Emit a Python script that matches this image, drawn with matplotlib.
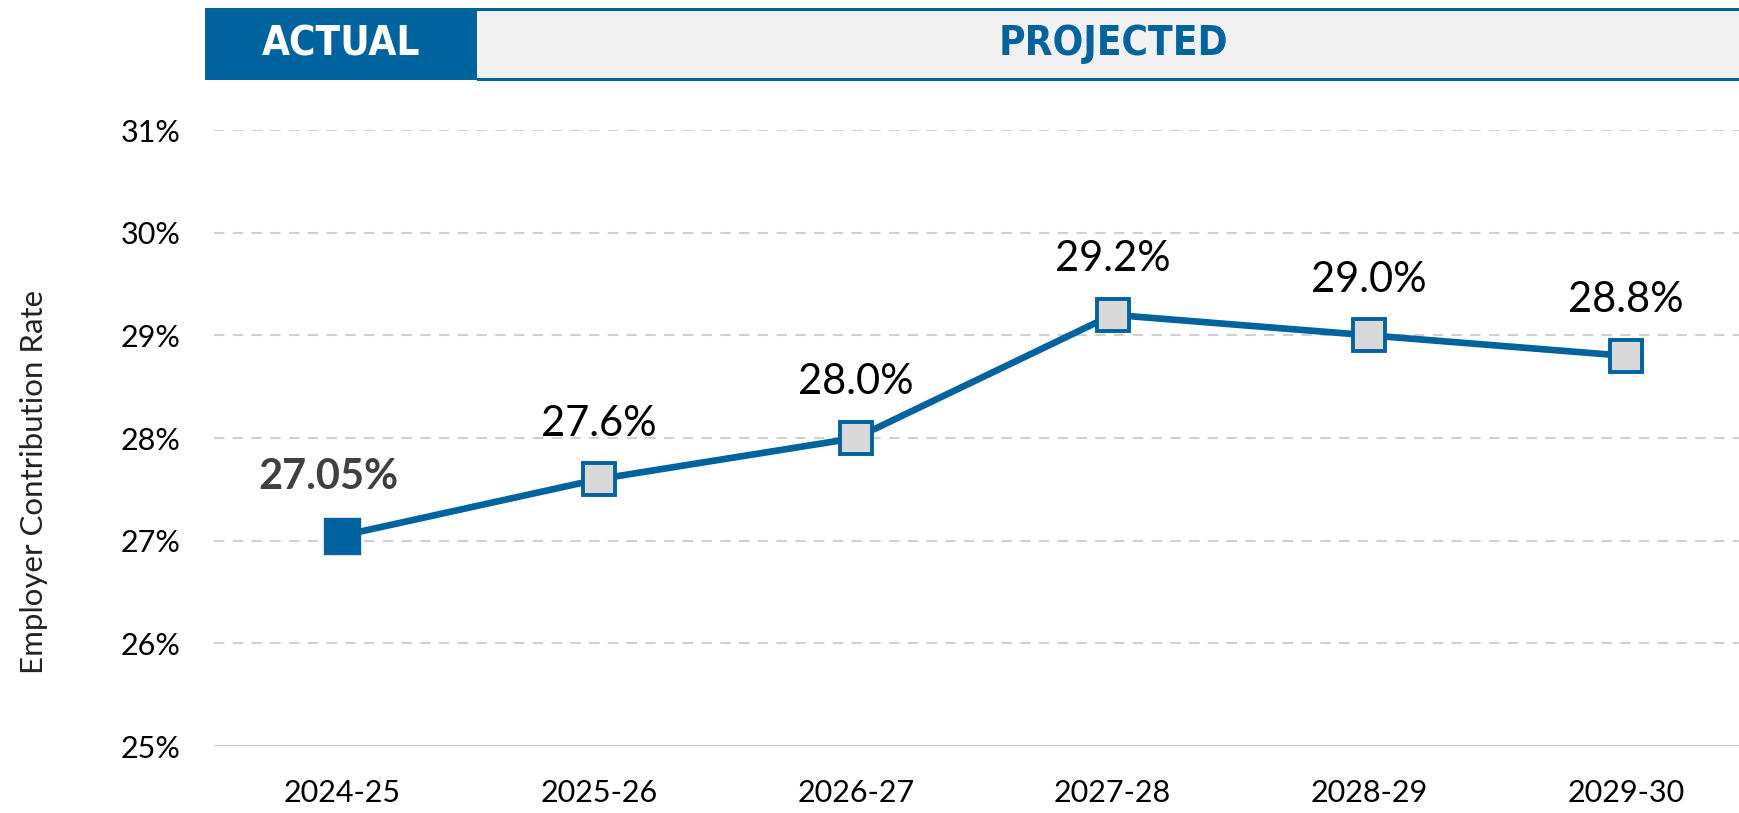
import numpy as np
import matplotlib.pyplot as plt
from matplotlib.patches import Rectangle

# data
years  = ["2024-25", "2025-26", "2026-27", "2027-28", "2028-29", "2029-30"]
rates  = [27.05, 27.6, 28.0, 29.2, 29.0, 28.8]
labels = ["27.05%", "27.6%", "28.0%", "29.2%", "29.0%", "28.8%"]
yticks = [25, 26, 27, 28, 29, 30, 31]

BLUE = "#00639e"
W, H = 1739, 813

plt.rcParams['font.family'] = ['Lato', 'DejaVu Sans']

fig = plt.figure(figsize=(W/100, H/100), dpi=100)

def fx(px): return px/W
def fy(py): return 1 - py/H    # py measured from top

# ---- header banner --------------------------------
fig.patches.append(Rectangle((fx(477), fy(80)), fx(W-477+10), (80-8)/H,
                             transform=fig.transFigure, facecolor="#f1f1f1",
                             edgecolor="none"))
for yy in (8, 78):
    fig.patches.append(Rectangle((fx(477), fy(yy+3)), fx(W-477+10), 3/H,
                                 transform=fig.transFigure, facecolor=BLUE,
                                 edgecolor="none"))
fig.patches.append(Rectangle((fx(205), fy(80)), fx(477-205), (80-8)/H,
                             transform=fig.transFigure, facecolor=BLUE,
                             edgecolor="none"))
fig.text(fx(341), fy(44), "ACTUAL", color="white", fontsize=29,
         fontweight="bold", fontstretch="condensed", ha="center", va="center",
         family=["DejaVu Sans"])
fig.text(fx(1113), fy(44), "PROJECTED", color=BLUE, fontsize=29,
         fontweight="bold", fontstretch="condensed", ha="center", va="center",
         family=["DejaVu Sans"])

# ---- main chart -----------------------------------
ax = fig.add_axes([fx(214), fy(746), 1 - fx(214), (746-130)/H])
x = np.arange(len(years))

for t in yticks[1:]:
    ax.axhline(t, color="#d0d0d0", lw=1.5, ls=(0, (5, 4)), zorder=0)
ax.axhline(yticks[0], color="#c8c8c8", lw=1.5, zorder=0)

ax.plot(x, rates, color=BLUE, lw=4.8, zorder=2)
ax.plot(x[:1], rates[:1], ls="none", marker="s", ms=24, mfc=BLUE,
        mec=BLUE, mew=2.4, zorder=3)
ax.plot(x[1:], rates[1:], ls="none", marker="s", ms=23.5, mfc="#d9d9d9",
        mec=BLUE, mew=2.8, zorder=3)

for i, (xi, r, s) in enumerate(zip(x, rates, labels)):
    if i == 0:
        ax.annotate(s, (xi, r), xytext=(-10, 42), textcoords="offset points",
                    ha="center", va="center", fontsize=30, fontweight="bold",
                    color="#404040")
    else:
        ax.annotate(s, (xi, r), xytext=(0, 40), textcoords="offset points",
                    ha="center", va="center", fontsize=30, color="black")

ax.set_xlim(-0.5, 5.44)
ax.set_ylim(25, 31)
ax.set_xticks(x)
ax.set_xticklabels(years, fontsize=22)
ax.set_yticks(yticks)
ax.set_yticklabels(["%d%%" % t for t in yticks], fontsize=22)
ax.tick_params(length=0)
ax.tick_params(axis="y", pad=24)
ax.tick_params(axis="x", pad=24)
for sp in ax.spines.values():
    sp.set_visible(False)
ax.patch.set_visible(False)

fig.text(fx(34), fy(482), "Employer Contribution Rate", rotation=90,
         ha="center", va="center", fontsize=22.5, color="#222222")

fig.savefig("out.png", dpi=100)
